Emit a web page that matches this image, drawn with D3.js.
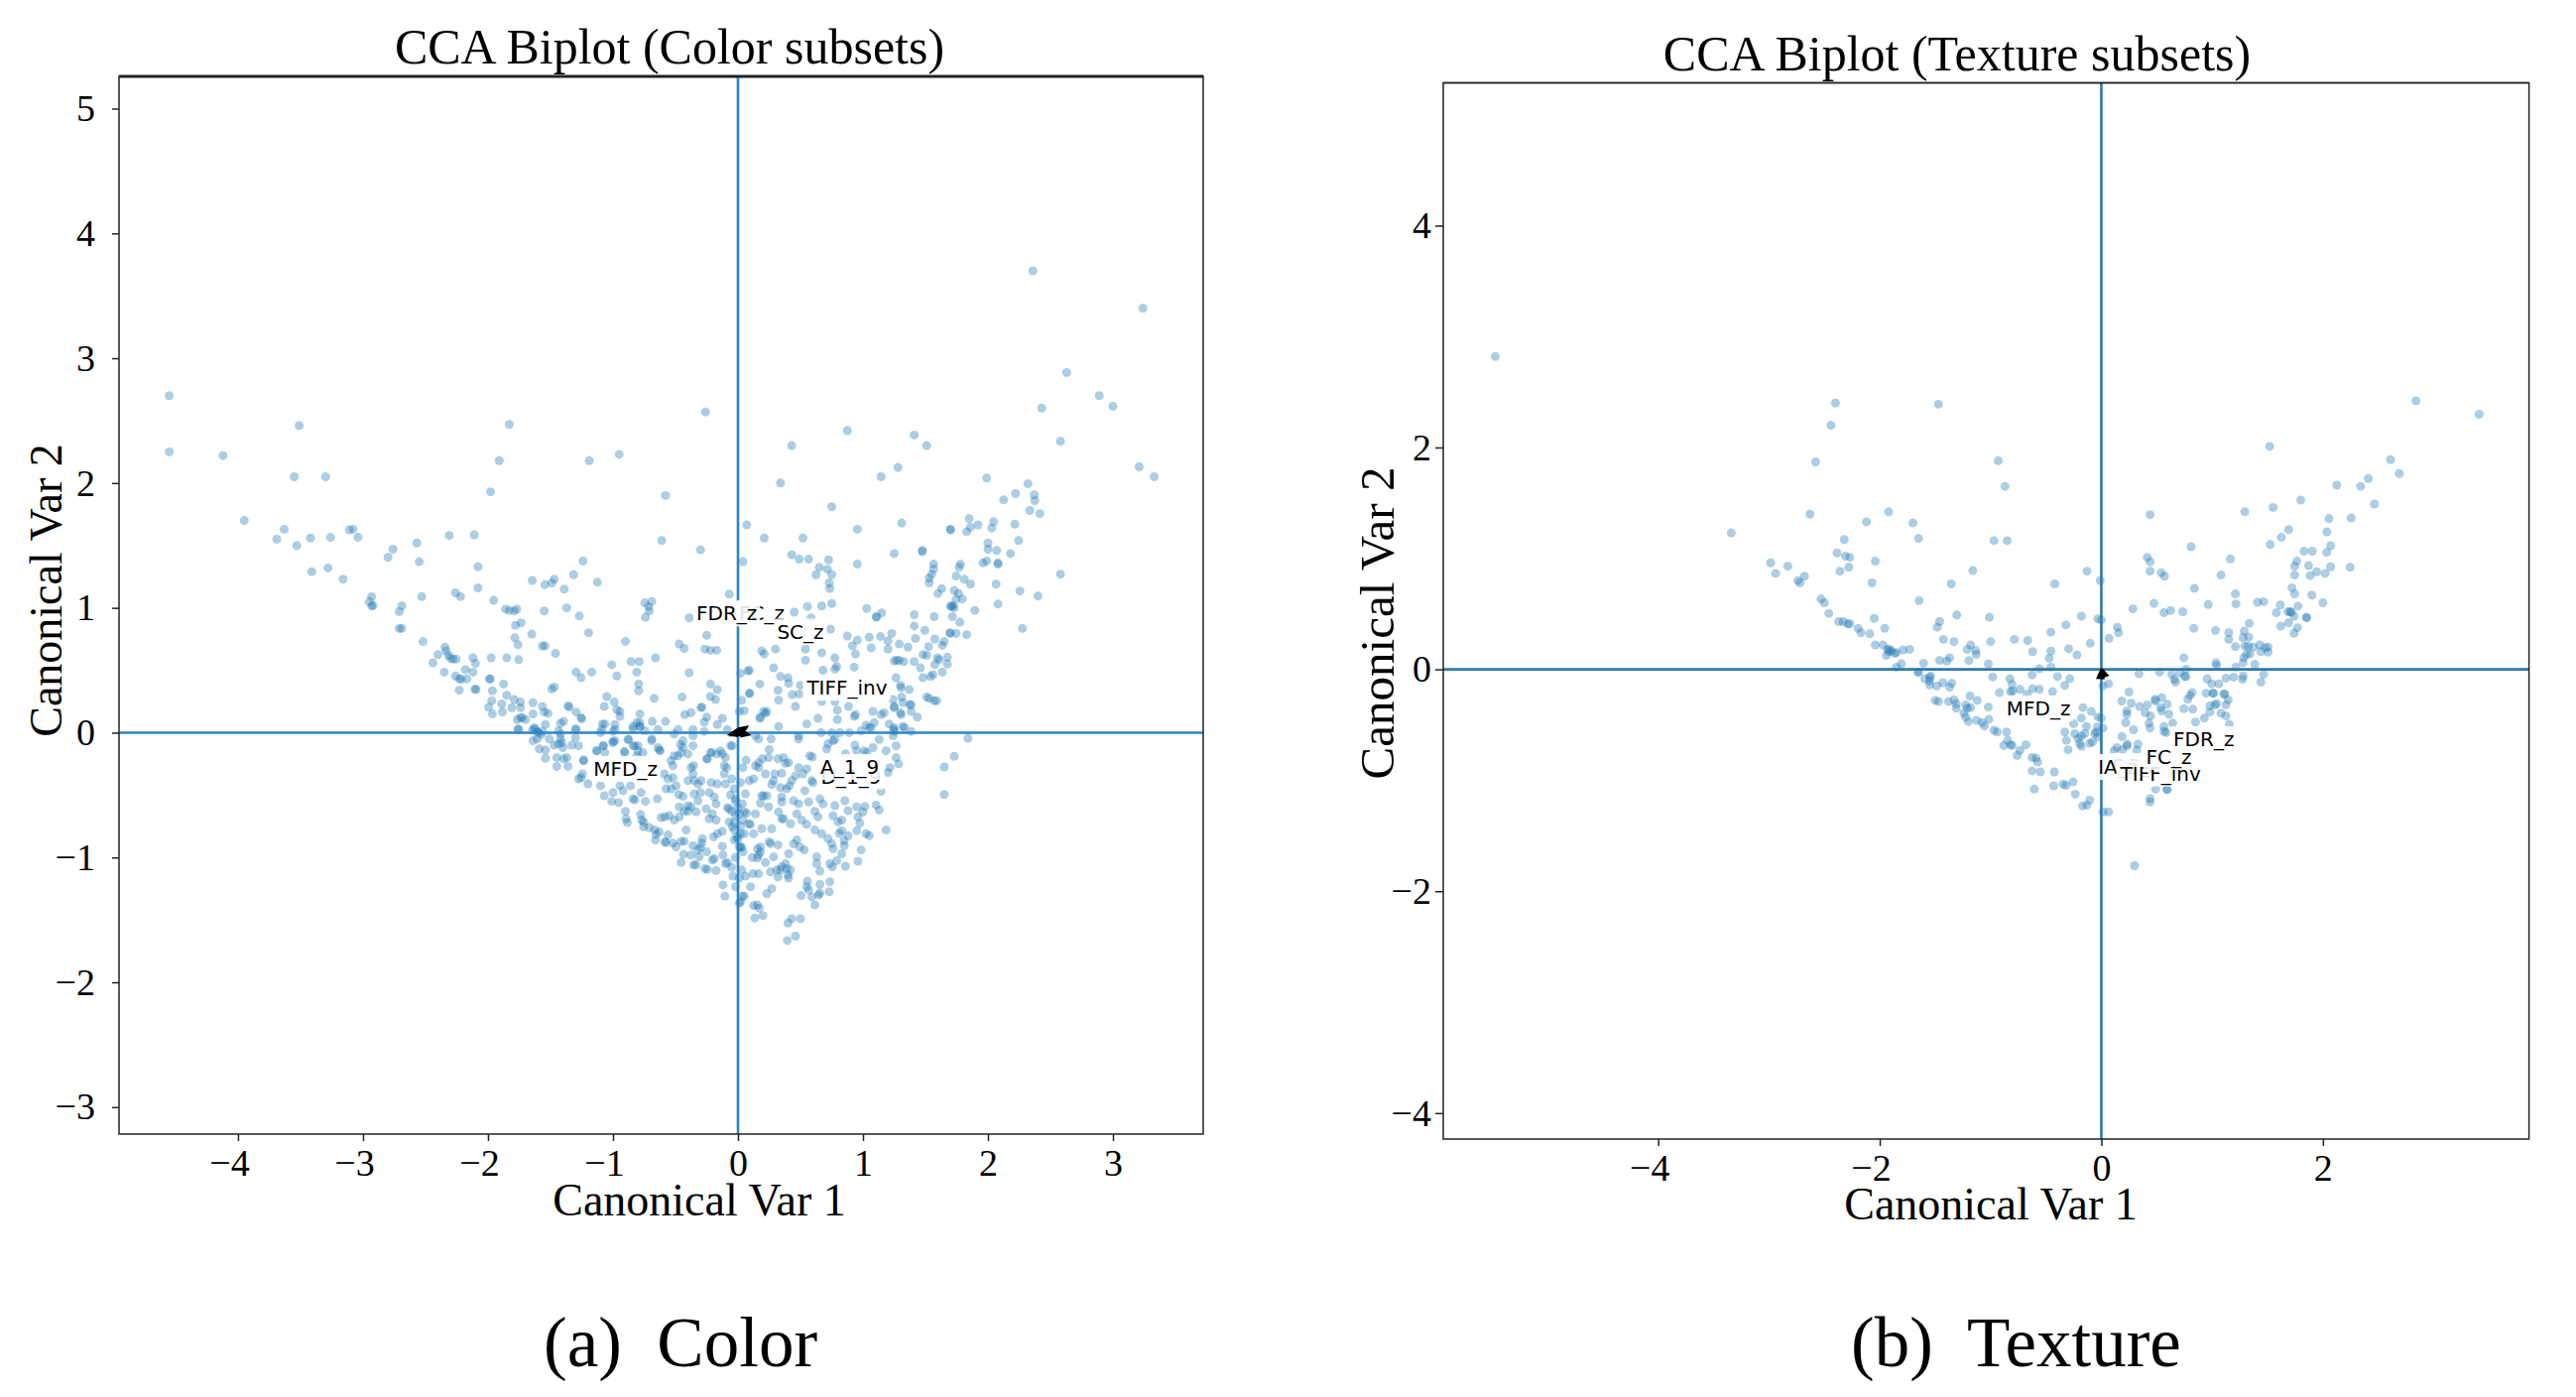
<!DOCTYPE html>
<html>
<head>
<meta charset="utf-8">
<script src="https://cdn.jsdelivr.net/npm/d3@7"></script>
<style>
  html, body { margin: 0; padding: 0; background: #fff; }
  svg { display: block; }
  text { font-family: "Liberation Serif", serif; fill: #000; }
  .biplot-label { font-family: "DejaVu Sans", sans-serif; font-size: 20px; }
</style>
</head>
<body>
<div id="svgElement"></div>
<script>
// canonical scores, [var1, var2]
var colorScores = [
[-4.55,2.70],[-4.55,2.25],[-4.12,2.22],[-3.51,2.46],[-3.55,2.05],[-3.30,2.05],[-3.95,1.70],[-3.63,1.63],[-3.69,1.55],[-3.53,1.50],
[-3.42,1.56],[-3.26,1.565],[-3.11,1.625],[-3.08,1.63],[-3.04,1.565],[-3.41,1.29],[-3.28,1.32],[-3.16,1.23],[-2.93,1.09],[-2.95,1.05],
[-2.93,1.015],[-2.92,1.02],[-2.76,1.47],[-2.80,1.405],[-2.57,1.52],[-2.55,1.37],[-2.31,1.58],[-2.11,1.585],[-2.08,1.33],[-2.08,1.16],
[-2.26,1.12],[-2.22,1.09],[-2.53,1.09],[-2.69,1.015],[-2.71,0.97],[-2.71,0.835],[-2.69,0.835],[-2.52,0.73],[-1.955,1.06],[-1.86,0.99],
[-1.83,0.98],[-1.79,0.975],[-1.77,0.99],[-1.98,1.93],[-1.91,2.18],[-1.83,2.47],[-1.19,2.18],[-0.95,2.23],[-0.58,1.90],[-0.61,1.54],
[-0.30,1.465],[-0.26,2.57],[-1.645,1.22],[-1.545,1.185],[-1.47,1.23],[-1.49,1.20],[-1.39,1.15],[-1.315,1.265],[-1.24,1.375],[-1.125,1.205],
[-0.745,1.04],[-0.69,1.05],[-0.715,1.01],[-0.71,0.975],[-0.74,0.925],[-1.55,0.975],[-1.37,1.0],[-1.27,0.935],[-1.78,0.86],[-1.735,0.88],
[-1.785,0.76],[-1.76,0.705],[-1.65,0.79],[-1.565,0.695],[-1.545,0.695],[-1.46,0.635],[-1.195,0.80],[-0.90,0.73],[-0.07,1.11],[-0.39,0.92],
[-0.25,0.78],[-0.47,0.71],[-0.43,0.675],[-0.265,0.67],[-0.22,0.66],[-0.17,0.66],[-0.66,0.60],[-0.855,0.57],[-0.79,0.57],[-1.01,0.545],
[-0.97,0.455],[-0.81,0.485],[-1.17,0.485],[-1.295,0.485],[-1.255,0.44],[-0.39,0.48],[-0.795,0.39],[-0.795,0.335],[-0.22,0.39],[-0.165,0.345],
[-0.22,0.29],[-0.18,0.265],[-0.67,0.275],[-0.447,0.285],[-1.05,0.29],[-0.99,0.245],[-1.07,0.21],[-0.97,0.185],[-0.945,0.17],[-0.945,0.13],
[-1.47,0.365],[-1.49,0.35],[-0.29,0.205],[-0.295,0.20],[-0.375,0.16],[-0.425,0.145],[-0.25,0.125],[-0.27,0.085],[-0.125,0.115],[-0.165,0.065],
[-0.785,0.15],[-0.785,0.08],[-0.81,0.08],[-0.84,0.05],[-0.785,0.05],[-0.685,0.09],[-0.58,0.09],[-1.085,0.07],[-1.065,0.07],[-1.10,0],
[-0.985,0.065],[-1.0,0.01],[-2.345,0.685],[-2.335,0.655],[-2.315,0.62],[-2.30,0.595],[-2.28,0.59],[-2.255,0.59],[-2.40,0.625],[-2.44,0.56],
[-2.35,0.485],[-2.12,0.60],[-2.10,0.555],[-2.12,0.485],[-2.18,0.505],[-1.975,0.60],[-1.85,0.60],[-1.755,0.585],[-2.26,0.455],[-2.23,0.43],
[-2.215,0.43],[-2.17,0.43],[-2.23,0.34],[-2.105,0.35],[-2.095,0.345],[-1.99,0.43],[-1.98,0.43],[-1.965,0.335],[-1.875,0.39],[-1.97,0.255],
[-1.995,0.205],[-1.965,0.15],[-1.89,0.23],[-1.885,0.165],[-1.85,0.30],[-1.79,0.265],[-1.74,0.245],[-1.81,0.20],[-1.74,0.20],[-1.64,0.24],
[-1.565,0.21],[-1.55,0.165],[-1.52,0.155],[-1.64,0.15],[-1.74,0.12],[-1.725,0.12],[-1.765,0.105],[-1.70,0.105],[-1.76,0.025],[-1.36,0.215],
[-1.35,0.205],[-1.295,0.165],[-1.255,0.12],[-1.25,0.11],[-1.395,0.09],[-1.42,0.075],[-1.54,0.065],[-1.63,0.04],[-1.605,0.01],[-1.645,0.02],
[-1.565,0.01],[-1.435,0.015],[-1.42,-0.01],[-1.295,0.025],
// below the zero line, left half
[-1.755,0.03],[-1.625,0.03],[-1.60,0],[-1.575,-0.015],[-1.64,-0.065],[-1.605,-0.05],[-1.59,-0.13],[-1.54,-0.14],[-1.54,-0.205],[-1.51,-0.05],
[-1.47,-0.10],[-1.42,-0.05],[-1.41,-0.08],[-1.40,-0.12],[-1.435,-0.09],[-1.33,-0.10],[-1.275,-0.105],[-1.30,0.03],[-1.30,-0.04],[-1.45,-0.20],
[-1.37,-0.20],[-1.395,-0.21],[-1.45,-0.27],[-1.36,-0.27],[-1.235,-0.225],[-1.235,-0.22],[-1.245,-0.33],[-1.255,-0.36],[-1.275,-0.37],[-1.20,-0.41],
[-1.13,-0.145],[-1.08,-0.105],[-1.065,-0.16],[-1.0,-0.08],[-0.985,-0.065],[-1.09,0.025],[-0.985,0.025],[-0.91,-0.15],[-0.875,-0.055],[-0.84,-0.105],
[-0.80,-0.105],[-0.76,-0.16],[-0.81,-0.185],[-0.69,-0.065],[-0.64,-0.12],[-0.62,-0.145],[-0.84,0.03],[-0.785,0.05],[-1.10,-0.425],[-1.07,-0.505],
[-1.01,-0.55],[-0.955,-0.56],[-1.0,-0.48],[-0.945,-0.425],[-0.92,-0.465],[-0.86,-0.425],[-0.84,-0.53],[-0.825,-0.54],[-0.775,-0.48],[-0.74,-0.55],
[-0.645,-0.53],[-0.90,-0.63],[-0.895,-0.69],[-0.885,-0.72],[-0.78,-0.655],[-0.77,-0.70],[-0.755,-0.715],[-0.755,-0.755],[-0.71,-0.76],[-0.665,-0.78],
[-0.655,-0.815],[-0.63,-0.795],[-0.56,-0.82],[-0.66,-0.86],[-0.585,-0.875],[-0.575,-0.88],[-0.52,-0.885],[-0.495,-0.915],[-0.455,-0.87],[-0.43,-0.87],
[-0.415,-0.78],[-0.615,-0.68],[-0.585,-0.675],[-0.55,-0.665],[-0.51,-0.70],[-0.47,-0.675],[-0.455,-1.04],[-0.435,-0.975],[-0.355,-1.06],[-0.335,-1.06],
[-0.265,-1.09],[-0.245,-1.095],[-0.175,-1.105],[-0.205,-1.02],[-0.19,-1.01],[-0.10,-1.05],[-0.085,-1.04],[-0.05,-1.08],[-0.31,-0.995],[-0.30,-0.92],
[-0.32,-0.94],[-0.36,-0.905],[-0.285,-0.85],[-0.29,-0.885],[-0.375,-0.98],[-0.25,-0.955],[-0.125,-0.91],[-0.12,-0.98],[-0.195,-0.835],[-0.165,-0.81],
[-0.125,-0.79],[-0.12,-1.22],[-0.105,-1.31],[-0.02,-1.235],[0.01,-1.365],[0.035,-1.31],[-0.375,-0.28],[-0.355,-0.265],[-0.36,-0.33],[-0.35,-0.385],
[-0.40,-0.385],[-0.295,-0.385],[-0.32,-0.41],[-0.35,-0.49],[-0.30,-0.48],[-0.32,-0.545],[-0.40,-0.585],[-0.375,-0.595],[-0.335,-0.635],[-0.40,-0.63],
[-0.47,-0.595],[-0.43,-0.63],[-0.255,-0.61],[-0.205,-0.65],[-0.23,-0.69],[-0.175,-0.70],[-0.23,-0.48],[-0.19,-0.515],[-0.175,-0.57],[-0.56,-0.37],
[-0.52,-0.36],[-0.495,-0.425],[-0.475,-0.495],[-0.44,-0.51],[-0.575,-0.45],[-0.535,-0.45],[-0.59,-0.33],[-0.535,-0.225],[-0.51,-0.185],[-0.455,-0.16],
[-0.44,-0.12],[-0.36,-0.105],[-0.40,-0.17],[-0.52,-0.265],[-0.25,-0.21],[-0.21,-0.16],[-0.17,-0.17],[-0.125,-0.17],[-0.10,-0.20],[-0.11,-0.265],
[-0.09,-0.28],[-0.215,-0.40],[-0.165,-0.41],[-0.11,-0.33],[-0.10,-0.41],[-0.05,-0.37],[-0.045,-0.105],[-0.085,-0.60],[-0.07,-0.61],[-0.05,-0.63],
[-0.02,-0.66],[-0.06,-0.50],[-0.02,-0.53],[-0.07,-0.715],[-0.045,-0.755],[-0.03,-0.78],[-0.01,-0.835],[-0.03,-0.86],[0.01,-0.915],[-0.745,0.015],
[-0.64,0.025],[-0.51,-0.01],[-0.48,0.025],[-0.36,0.025],[-0.27,0.01],[-0.085,0.025],[-0.69,-0.05],[-0.44,-0.065],[-0.36,-0.025],[-1.0,-0.07],
[-1.075,-0.105],[-1.13,-0.145],[-0.88,-0.055],[-0.825,-0.105],[-0.80,-0.145],[-0.905,-0.16],[-0.63,-0.14],[-0.46,-0.095],[-0.48,-0.185],[-0.245,-0.21],
[-0.22,-0.16],[-0.14,-0.145],[-0.06,-0.105],[-0.03,-0.45],[-0.02,-0.55],[0,-0.60],[0.01,-0.65],[-0.03,-0.72],[0.02,-0.75],[0,-0.85],[0.03,-0.92],
[-0.02,-1.0],[0.04,-0.70],[0.03,-1.10],[0.06,-1.15],[-0.04,-1.15],
// right half, upper part
[2.36,3.70],[3.24,3.40],[2.63,2.885],[2.89,2.70],[3.0,2.615],[2.43,2.60],[2.58,2.335],[3.21,2.13],[3.33,2.05],[0.875,2.42],[1.41,2.385],[1.51,2.30],
[0.43,2.30],[0.34,2.0],[1.145,2.05],[1.28,2.125],[0.75,1.81],[1.99,2.04],[2.32,1.995],[2.22,1.915],[2.37,1.905],[2.375,1.86],[2.125,1.865],[2.335,1.78],
[2.415,1.755],[0.07,1.665],[0.955,1.63],[1.31,1.68],[0.21,1.56],[0.52,1.56],[1.70,1.625],[1.70,1.63],[1.85,1.715],[1.92,1.665],[1.86,1.645],[1.83,1.61],
[2.045,1.69],[2.03,1.64],[2.215,1.67],[2.245,1.54],[2.0,1.52],[2.0,1.47],[2.07,1.46],[2.18,1.435],[1.99,1.375],[1.96,1.36],[2.08,1.36],[2.08,1.35],
[1.475,1.46],[1.475,1.45],[1.25,1.435],[0.04,1.37],[0.43,1.425],[0.49,1.39],[0.565,1.39],[0.725,1.385],[0.715,1.31],[0.65,1.325],[0.625,1.265],[0.75,1.265],
[0.73,1.20],[0.735,1.155],[0.955,1.35],[1.565,1.35],[1.565,1.31],[1.55,1.27],[1.53,1.24],[1.53,1.20],[1.78,1.35],[1.77,1.325],[1.745,1.255],[1.81,1.23],
[1.86,1.19],[1.63,1.155],[1.60,1.115],[1.73,1.14],[1.765,1.115],[1.795,1.07],[1.745,1.07],[1.70,1.015],[1.71,1.01],[1.72,1.02],[1.73,1.0],[1.715,0.93],
[1.57,0.93],[1.895,0.98],[2.08,1.03],[2.065,1.19],[2.255,1.135],[2.40,1.095],[2.58,1.27],[2.275,0.835],[1.70,0.795],[1.745,0.795],[1.83,0.785],
// right half, middle
[0.555,1.01],[0.45,0.965],[0.67,1.015],[0.75,1.035],[0.585,0.92],[1.03,0.995],[1.15,0.96],[1.11,0.93],[1.105,0.925],[1.41,0.945],[0.74,0.83],[0.535,0.84],
[0.875,0.775],[0.955,0.74],[0.915,0.695],[1.05,0.765],[1.14,0.77],[1.23,0.795],[1.2,0.735],[1.2,0.67],[1.065,0.68],[0.94,0.63],[1.29,0.71],[1.36,0.685],
[1.42,0.755],[1.41,0.855],[1.495,0.82],[1.695,0.80],[1.775,0.885],[1.575,0.75],[1.65,0.73],[1.635,0.70],[1.525,0.69],[1.48,0.625],[1.51,0.62],[1.41,0.57],
[1.325,0.57],[1.25,0.575],[1.27,0.58],[1.29,0.58],[1.595,0.60],[1.61,0.585],[1.575,0.545],[1.675,0.605],[1.675,0.55],[1.46,0.52],[1.635,0.485],[1.56,0.465],
[1.54,0.45],[1.48,0.44],[0.19,0.655],[0.21,0.63],[0.30,0.67],[0.54,0.67],[0.67,0.64],[0.54,0.58],[0.775,0.60],[0.79,0.53],[0.775,0.51],[0.68,0.50],[0.93,0.525],
[0.285,0.52],[0.34,0.45],[0.40,0.44],[0.405,0.395],[0.09,0.50],[0.175,0.39],[0.32,0.34],[0.325,0.26],[0.095,0.315],[0.435,0.305],[0.49,0.31],[0.50,0.38],
[0.46,0.21],[0.22,0.155],[0.18,0.125],[0.325,0.05],[0.55,0.07],[0.64,0.115],[0.795,0.18],[0.795,0.105],[0.93,0.13],[0.94,0.145],[0.885,0.21],[0.67,0.25],
[0.775,0.25],[1.265,0.44],[1.30,0.38],[1.305,0.36],[1.37,0.345],[1.31,0.285],[1.32,0.24],[1.375,0.225],[1.385,0.225],[1.25,0.20],[1.305,0.145],[1.30,0.16],
[1.435,0.125],[1.385,0.17],[1.51,0.285],[1.53,0.275],[1.57,0.255],[1.59,0.255],[1.08,0.17],[1.145,0.145],[1.17,0.16],[1.24,0.265],[1.25,0.21],[1.09,0.08],
[1.05,0.04],[1.025,0.06],[1.21,0.07],[1.25,0.04],[1.25,0.01],[1.245,0.025],[1.32,0.05],[1.33,0.04],[1.24,-0.025],[1.385,0.01],[0.485,-0.025],[0.485,-0.05],
[0.665,0],[0.75,0],[0.815,0],[0.89,0],[0.985,0.015],[1.065,0.04],[0.14,-0.025],[0.165,-0.05],[0.265,-0.05],[1.84,-0.045],[1.73,-0.19],[1.65,-0.275],[1.65,-0.495],
[0.02,0.475],[0.08,0.495],[0.09,0.315],[0.03,0.26],[0.01,0.17],[0.05,0.175],[0.205,0.17],[0.175,0.115],[0.23,0.17],
// right half, below the zero line
[0.25,-0.135],[0.245,-0.20],[0.065,-0.22],[0.04,-0.28],[0.165,-0.24],[0.195,-0.21],[0.14,-0.265],[0.165,-0.28],[0.32,-0.21],[0.365,-0.20],[0.38,-0.245],[0.405,-0.24],
[0.35,-0.325],[0.295,-0.33],[0.285,-0.385],[0.27,-0.415],[0.22,-0.33],[0.485,-0.28],[0.46,-0.345],[0.43,-0.385],[0.41,-0.425],[0.34,-0.44],[0.39,-0.45],[0.55,-0.29],
[0.52,-0.33],[0.59,-0.385],[0.60,-0.40],[0.535,-0.465],[0.575,-0.185],[0.595,-0.195],[0.71,-0.13],[0.72,-0.09],[0.775,-0.055],[0.76,-0.065],[0.86,-0.17],[0.935,-0.10],
[1.01,-0.145],[1.03,-0.16],[0.95,-0.145],[1.08,-0.12],[1.13,-0.055],[1.185,-0.145],[1.265,-0.20],[1.285,-0.25],[1.215,-0.28],[1.20,-0.32],[1.265,-0.105],[0.02,-0.40],
[0.09,-0.385],[0.125,-0.37],[0.19,-0.505],[0.205,-0.505],[0.23,-0.505],[0.18,-0.565],[0.06,-0.49],[0.035,-0.57],[0.05,-0.635],[0.07,-0.645],[0.245,-0.595],[0.14,-0.65],
[0.325,-0.635],[0.35,-0.69],[0.365,-0.69],[0.42,-0.73],[0.27,-0.77],[0.19,-0.77],[0.085,-0.73],[0.10,-0.735],[0.35,-0.515],[0.35,-0.555],[0.445,-0.545],[0.485,-0.57],
[0.565,-0.555],[0.47,-0.65],[0.51,-0.70],[0.55,-0.735],[0.655,-0.53],[0.68,-0.57],[0.615,-0.63],[0.64,-0.675],[0.76,-0.665],[0.775,-0.585],[0.855,-0.545],[0.88,-0.625],
[0.95,-0.595],[1.0,-0.635],[0.96,-0.675],[0.975,-0.725],[0.83,-0.70],[0.80,-0.715],[1.105,-0.58],[1.13,-0.62],[1.145,-0.47],[1.015,-0.59],[1.185,-0.78],[0.615,-0.78],
[0.67,-0.81],[0.72,-0.85],[0.75,-0.89],[0.81,-0.805],[0.85,-0.865],[0.85,-0.905],[0.88,-0.825],[0.95,-0.785],[1.025,-0.81],[1.05,-0.825],[0.83,-0.785],[0.985,-0.94],
[0.96,-1.03],[0.83,-0.97],[0.76,-0.93],[0.86,-1.07],[0.735,-1.05],[0.79,-1.025],[0.755,-1.075],[0.63,-0.995],[0.63,-1.05],[0.655,-1.11],[0.735,-1.195],[0.655,-1.215],
[0.73,-1.275],[0.655,-1.285],[0.645,-1.30],[0.555,-1.19],[0.55,-1.235],[0.565,-1.26],[0.59,-1.315],[0.615,-1.38],[0.505,-1.305],[0.405,-0.97],[0.38,-1.05],[0.39,-1.09],
[0.42,-1.10],[0.34,-1.10],[0.31,-1.10],[0.26,-1.115],[0.32,-1.155],[0.40,-1.14],[0.405,-1.165],[0.35,-1.075],[0.47,-0.86],[0.445,-0.89],[0.495,-0.915],[0.53,-0.94],
[0.32,-0.90],[0.25,-0.875],[0.26,-0.89],[0.18,-0.915],[0.155,-0.93],[0.165,-0.98],[0.155,-1.005],[0.18,-0.955],[0.285,-0.995],[0.115,-1.0],[0.22,-1.04],[0.04,-0.955],
[0.02,-0.915],[0.125,-0.81],[0.05,-0.81],[0.02,-0.81],[0.165,-1.13],[0.12,-1.13],[0.10,-1.235],[0.27,-1.25],[0.23,-1.29],[0.05,-1.31],[0.02,-1.355],[0.01,-1.165],
[0.125,-1.385],[0.155,-1.38],[0.17,-1.405],[0.135,-1.485],[0.20,-1.465],[0.43,-1.49],[0.40,-1.525],[0.50,-1.49],[0.395,-1.665],[0.46,-1.63]
];

var textureScores = [
[-5.47,2.82],[-2.40,2.40],[-2.44,2.20],[-1.47,2.39],[-2.58,1.87],[-0.93,1.88],[-0.87,1.65],[-2.63,1.40],[-3.34,1.23],[-1.92,1.42],[-2.12,1.33],[-1.70,1.32],
[-1.65,1.18],[-2.32,1.17],[-0.97,1.16],[-0.85,1.16],[-2.385,1.05],[-2.31,1.02],[-2.27,1.01],[-2.04,0.975],[-2.985,0.96],[-2.94,0.865],[-2.83,0.93],[-2.68,0.84],
[-2.74,0.80],[-2.72,0.78],[-2.36,0.885],[-2.28,0.92],[-1.16,0.89],[-2.07,0.78],[-1.355,0.77],[-0.42,0.77],[-0.13,0.885],[-0.01,0.80],[-1.645,0.62],[-2.53,0.635],
[-2.50,0.60],[-2.46,0.505],[-2.37,0.43],[-2.33,0.43],[-2.29,0.41],[-2.27,0.41],[-2.195,0.37],[-2.17,0.33],[-2.09,0.32],[-2.05,0.46],[-1.955,0.37],[-2.04,0.22],
[-1.97,0.22],[-1.93,0.18],[-1.91,0.18],[-1.895,0.165],[-1.92,0.16],[-1.94,0.125],[-1.865,0.145],[-1.85,0.15],[-1.79,0.175],[-1.73,0.18],[-1.85,0.02],[-1.805,0.05],
[-1.605,0.055],[-1.655,-0.025],[-1.65,-0.025],[-1.595,-0.085],[-1.55,-0.075],[-1.54,-0.06],[-1.55,-0.105],[-1.55,-0.14],[-1.485,-0.15],[-1.43,-0.12],[-1.37,-0.16],
[-1.35,-0.125],[-1.50,-0.28],[-1.47,-0.29],[-1.38,-0.29],[-1.33,-0.275],[-1.31,-0.31],[-1.31,-0.35],[-1.225,-0.32],[-1.21,-0.35],[-1.18,-0.345],[-1.24,-0.395],
[-1.225,-0.43],[-1.20,-0.47],[-1.185,-0.24],[-1.12,-0.28],[-1.02,-0.34],[-1.015,-0.45],[-1.125,-0.46],[-1.075,-0.48],[-1.055,-0.51],[-0.97,-0.55],[-0.94,-0.565],
[-0.855,-0.565],[-0.845,-0.64],[-0.82,-0.68],[-0.88,-0.685],[-0.805,-0.685],[-0.68,-0.68],[-0.735,-0.73],[-0.76,-0.775],[-0.625,-0.795],[-0.59,-0.80],[-0.575,-0.835],
[-0.55,-0.925],[-0.625,-0.915],[-0.425,-0.925],[-0.43,-1.05],[-0.605,-1.08],[-0.345,-1.035],[-0.32,-1.045],[-0.255,-1.015],[-0.235,-1.125],[-0.17,-1.23],[-0.13,-1.225],
[-0.105,-1.18],[-1.46,0.43],[-1.48,0.38],[-1.305,0.49],[-1.425,0.27],[-1.33,0.25],[-1.18,0.22],[-1.21,0.18],[-1.135,0.17],[-1.13,0.135],[-1.195,0.08],
[-1.46,0.08],[-1.395,0.075],[-1.37,0.105],[-1.01,0.47],[-1.0,0.25],[-1.02,0.05],[-0.785,0.27],[-0.665,0.26],[-0.62,0.16],[-0.98,-0.07],[-0.825,-0.085],[-0.805,-0.135],
[-0.80,-0.195],[-0.735,-0.18],[-0.82,-0.20],[-0.92,-0.21],[-0.625,-0.05],[-0.56,0.005],[-0.62,-0.175],[-0.56,-0.18],[-0.67,-0.225],[-0.44,-0.20],[-0.395,-0.065],
[-0.33,-0.145],[-0.285,-0.085],[-0.455,0.165],[-0.47,0.10],[-0.455,0.02],[-0.295,0.185],[-0.22,0.13],[-0.10,0.235],[-0.32,0.40],[-0.455,0.335],[-0.18,0.48],[-0.03,0.455],
[-0.165,-0.345],[-0.09,-0.38],[-0.18,-0.44],
[-0.33,-0.565],[-0.315,-0.64],[-0.30,-0.725],[-0.24,-0.58],[-0.21,-0.625],[-0.18,-0.60],[-0.15,-0.58],[-0.195,-0.67],[-0.18,-0.695],[-0.105,-0.665],[-0.08,-0.655],
[-0.06,-0.58],[-0.03,-0.61],[-0.03,-0.43],[-0.135,-0.515],[-0.25,-0.49],[-0.035,-0.52],[-0.045,-0.565],
// right of the vertical line
[2.84,2.42],[3.41,2.30],[1.52,2.01],[2.61,1.89],[2.69,1.765],[2.41,1.72],[2.34,1.65],[2.125,1.66],[0.44,1.395],[1.295,1.42],[1.55,1.46],[1.80,1.525],[2.465,1.49],
[2.055,1.36],[2.255,1.365],[2.035,1.24],[1.69,1.26],[1.625,1.19],[1.525,1.125],[2.07,1.115],[2.035,1.055],[1.83,1.065],[1.905,1.065],[0.81,1.105],[0.415,1.01],[0.44,0.97],
[0.44,0.885],[0.54,0.87],[0.57,0.84],[1.165,0.995],[1.08,0.85],[0.84,0.73],[1.765,0.975],[1.745,0.93],[1.745,0.85],[1.87,0.935],[2.07,0.925],[2.245,0.92],[1.945,0.88],
[1.885,0.845],[2.02,0.865],[1.72,0.735],[1.745,0.68],[1.90,0.67],[1.21,0.68],[1.215,0.59],[0.965,0.585],[0.475,0.595],[0.285,0.545],[0.565,0.51],[0.625,0.53],[0.735,0.52],
[1.41,0.605],[1.465,0.61],[1.615,0.58],[1.775,0.57],[2.0,0.60],[1.58,0.51],[1.685,0.52],[1.705,0.52],[1.715,0.515],[1.74,0.48],[1.85,0.47],[1.855,0.465],[1.335,0.415],
[1.69,0.42],[1.62,0.39],[1.77,0.375],[1.74,0.325],[0.145,0.38],[0.155,0.33],[0.07,0.28],[0.835,0.37],[1.03,0.35],[1.15,0.33],[1.15,0.27],[1.29,0.345],[1.33,0.29],[1.28,0.285],
[1.21,0.205],[1.295,0.21],[1.325,0.21],[1.37,0.20],[1.43,0.22],[1.44,0.16],[1.505,0.20],[1.505,0.155],[1.48,0.195],[1.31,0.135],[1.285,0.105],[1.34,0.14],[0.745,0.105],
[1.035,0.06],[1.04,0.035],[1.28,0.06],[1.385,0.045],[1.215,0.02],[0.765,0],[0.71,-0.03],[0.635,-0.045],[0.66,-0.09],[0.67,-0.115],[0.75,-0.065],[0.765,-0.065],[0.34,-0.04],
[0.525,-0.025],[0.065,-0.13],[0.015,-0.15],[0.955,-0.085],[0.995,-0.13],[1.06,-0.13],[1.125,-0.08],[1.195,-0.07],[1.28,-0.06],[1.275,-0.09],[1.465,-0.045],[1.44,-0.115],
[0.945,-0.215],[1.005,-0.215],[1.015,-0.215],[1.105,-0.22],[1.115,-0.225],[1.145,-0.275],[1.125,-0.32],[1.04,-0.31],[1.025,-0.32],[0.98,-0.33],[0.98,-0.385],[0.82,-0.21],
[0.80,-0.235],[0.78,-0.27],[0.745,-0.355],[0.825,-0.36],[1.08,-0.395],[1.125,-0.42],[0.93,-0.44],[0.85,-0.475],[1.155,-0.495],[0.25,-0.205],[0.185,-0.285],[0.27,-0.305],
[0.345,-0.335],[0.415,-0.32],[0.485,-0.27],[0.49,-0.285],[0.545,-0.255],[0.535,-0.345],[0.545,-0.375],[0.595,-0.315],[0.61,-0.405],[0.395,-0.39],[0.445,-0.42],[0.23,-0.375],
[0.23,-0.405],[0.22,-0.48],[0.43,-0.485],[0.44,-0.53],[0.565,-0.515],[0.565,-0.56],[0.585,-0.57],[0.645,-0.485],[0.29,-0.545],[0.185,-0.605],[0.14,-0.705],[0.115,-0.735],
[0.19,-0.725],[0.235,-0.675],[0.23,-0.69],[0.33,-0.675],[0.32,-0.73],[0.475,-0.72],[0.715,-0.585],[0.49,-1.08],[0.59,-1.08],[0.595,-1.085],[0.44,-1.165],[0.44,-1.195],
[0.065,-1.285],[0.015,-1.285],[0,0.445],[0,-0.44],[0.015,-0.53],[0.30,-1.77]
];

var colorXTicks = [-4, -3, -2, -1, 0, 1, 2, 3];
var colorYTicks = [-3, -2, -1, 0, 1, 2, 3, 4, 5];
var textureXTicks = [-4, -2, 0, 2];
var textureYTicks = [-4, -2, 0, 2, 4];

// drawn in this order, later boxes cover earlier text
var colorLabels = ["FC_z", "FDR_z", "SC_z", "TIFF_inv", "MFD_z", "D_1_9", "A_1_9"];
var colorLabelPos = [[0.19, 0.955], [-0.09, 0.955], [0.5, 0.81], [0.873, 0.36], [-0.9, -0.29], [0.905, -0.352], [0.894, -0.275]];
var textureLabels = ["SC_z", "IA_z", "TIFF_inv", "FC_z", "FDR_z", "MFD_z"];
var textureLabelPos = [[0.31, -0.87], [0.15, -0.88], [0.535, -0.94], [0.61, -0.79], [0.925, -0.63], [-0.567, -0.352]];

// loading arrows, [from x, from y, to x, to y]
var colorArrows = [[0, 0, -0.09, -0.02], [0, 0, 0.08, 0.04], [0, 0, 0.11, -0.02], [0, 0, 0.09, 0.06], [0, 0, -0.07, -0.03]];
var textureArrows = [[0.06, -0.14, 0, 0.02], [-0.01, -0.14, -0.005, 0.01]];

var svg = d3.select("#svgElement").append("svg")
    .attr("width", 2597)
    .attr("height", 1408);

function drawPanel(opt) {
    var xScale = d3.scaleLinear().domain(opt.xDomain).range([opt.left, opt.right]);
    var yScale = d3.scaleLinear().domain(opt.yDomain).range([opt.bottom, opt.top]);
    var g = svg.append("g");

    g.selectAll(".dot")
        .data(opt.scores)
        .enter().append("circle")
        .attr("class", "dot")
        .attr("cx", function(d) { return xScale(d[0]); })
        .attr("cy", function(d) { return yScale(d[1]); })
        .attr("r", 4.5)
        .style("fill", "#1f77b4")
        .style("fill-opacity", 0.37);

    // zero lines
    g.append("line")
        .attr("x1", opt.left).attr("x2", opt.right)
        .attr("y1", yScale(0)).attr("y2", yScale(0))
        .style("stroke", opt.lineColor).style("stroke-width", 2.6);
    g.append("line")
        .attr("x1", xScale(0)).attr("x2", xScale(0))
        .attr("y1", opt.top).attr("y2", opt.bottom)
        .style("stroke", opt.lineColor).style("stroke-width", 2.6);

    // arrows
    opt.arrows.forEach(function(a) {
        var x1 = xScale(a[0]), y1 = yScale(a[1]), x2 = xScale(a[2]), y2 = yScale(a[3]);
        var len = Math.sqrt((x2 - x1) * (x2 - x1) + (y2 - y1) * (y2 - y1));
        var ux = (x2 - x1) / len, uy = (y2 - y1) / len;
        var bx = x2 - ux * 11, by = y2 - uy * 11;
        g.append("path")
            .attr("d", "M" + x2 + "," + y2 + "L" + (bx - uy * 4.5) + "," + (by + ux * 4.5) + "L" + (bx + uy * 4.5) + "," + (by - ux * 4.5) + "Z")
            .style("fill", "#000");
    });

    // labels with white box behind
    opt.labels.forEach(function(name, i) {
        var lg = g.append("g");
        var t = lg.append("text")
            .attr("class", "biplot-label")
            .attr("x", xScale(opt.labelPos[i][0]))
            .attr("y", yScale(opt.labelPos[i][1]))
            .attr("dy", "0.35em")
            .style("text-anchor", "middle")
            .text(name);
        var b = t.node().getBBox();
        lg.insert("rect", "text")
            .attr("x", b.x - 3).attr("y", b.y - 1)
            .attr("width", b.width + 6).attr("height", b.height + 2)
            .attr("rx", 3)
            .style("fill", "#fff").style("fill-opacity", 0.88);
    });

    // frame
    g.append("rect")
        .attr("x", opt.left).attr("y", opt.top)
        .attr("width", opt.right - opt.left).attr("height", opt.bottom - opt.top)
        .style("fill", "none").style("stroke", "#222").style("stroke-width", 1.5);
    g.append("line")
        .attr("x1", opt.left).attr("x2", opt.right)
        .attr("y1", opt.top).attr("y2", opt.top)
        .style("stroke", "#222").style("stroke-width", opt.topWidth);

    var xAxis = g.append("g")
        .attr("transform", "translate(0," + opt.bottom + ")")
        .call(d3.axisBottom(xScale).tickValues(opt.xTicks).tickSize(7).tickPadding(8).tickSizeOuter(0));
    var yAxis = g.append("g")
        .attr("transform", "translate(" + opt.left + ",0)")
        .call(d3.axisLeft(yScale).tickValues(opt.yTicks).tickSize(opt.yTickLen).tickPadding(opt.yPad).tickSizeOuter(0));
    [xAxis, yAxis].forEach(function(ax) {
        ax.select(".domain").remove();
        ax.selectAll("line").style("stroke", "#222").style("stroke-width", 1.5);
        ax.selectAll("text")
            .style("font-family", '"Liberation Serif", serif')
            .style("font-size", "38px")
            .style("fill", "#000");
    });
    // minus sign pushes negative tick labels left in the original
    xAxis.selectAll("text").attr("dx", function(d) { return d < 0 ? -9 : 0; });

    g.append("text")
        .attr("x", opt.titleX).attr("y", opt.titleY)
        .style("text-anchor", "middle").style("font-size", "50px")
        .text(opt.title);
    g.append("text")
        .attr("x", opt.xLabelX).attr("y", opt.xLabelY)
        .style("text-anchor", "middle").style("font-size", "46px")
        .text("Canonical Var 1");
    g.append("text")
        .attr("transform", "translate(" + opt.yLabelX + "," + opt.yLabelY + ") rotate(-90)")
        .style("text-anchor", "middle").style("font-size", opt.yLabelSize)
        .text("Canonical Var 2");
    g.append("text")
        .attr("x", opt.captionX).attr("y", 1377)
        .style("font-size", "71px")
        .style("white-space", "pre")
        .attr("xml:space", "preserve")
        .text(opt.caption);
}

drawPanel({
    scores: colorScores, labels: colorLabels, labelPos: colorLabelPos, arrows: colorArrows,
    xTicks: colorXTicks, yTicks: colorYTicks,
    xDomain: [-4.952, 3.722], yDomain: [-3.216, 5.258],
    left: 120, right: 1213, top: 77, bottom: 1143,
    lineColor: "#2b84c6", yTickLen: 7, yPad: 17, topWidth: 3,
    title: "CCA Biplot (Color subsets)", titleX: 675, titleY: 64,
    xLabelX: 705, xLabelY: 1225, yLabelX: 62, yLabelY: 595, yLabelSize: "46px",
    caption: "(a)  Color", captionX: 548
});

drawPanel({
    scores: textureScores, labels: textureLabels, labelPos: textureLabelPos, arrows: textureArrows,
    xTicks: textureXTicks, yTicks: textureYTicks,
    xDomain: [-5.94, 3.86], yDomain: [-4.234, 5.287],
    left: 1455, right: 2549.6, top: 83.5, bottom: 1148,
    lineColor: "#2f78ab", yTickLen: 8, yPad: 4, topWidth: 1.5,
    title: "CCA Biplot (Texture subsets)", titleX: 1973, titleY: 71,
    xLabelX: 2007, xLabelY: 1229, yLabelX: 1405, yLabelY: 628, yLabelSize: "49px",
    caption: "(b)  Texture", captionX: 1866
});
</script>
</body>
</html>
